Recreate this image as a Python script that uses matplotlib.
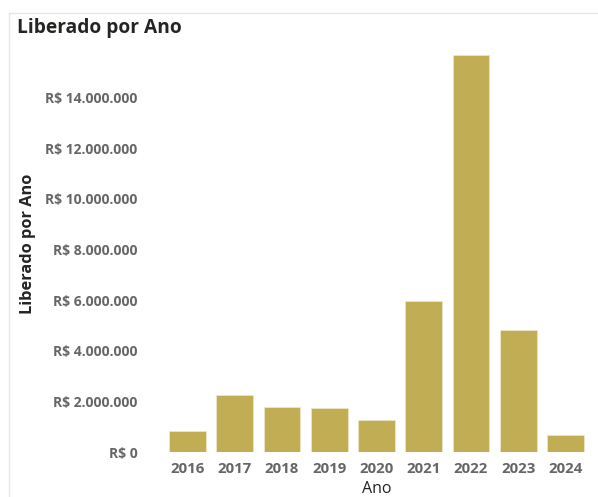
import matplotlib.pyplot as plt
from matplotlib.lines import Line2D
from matplotlib.ticker import FuncFormatter

anos = ["2016", "2017", "2018", "2019", "2020", "2021", "2022", "2023", "2024"]
liberado = [830000, 2250000, 1780000, 1740000, 1260000, 5970000, 15700000, 4820000, 670000]

plt.rcParams['font.family'] = ['Open Sans', 'DejaVu Sans']

fig = plt.figure(figsize=(5.98, 4.97), dpi=100)
ax = fig.add_axes([0.274, 0.0905, 0.711, 0.8149])

ax.bar(range(len(anos)), liberado, width=0.78, color="#C1AD53", edgecolor="#EEE6C4", linewidth=0.6)
ax.set_xlim(-0.5, len(anos) - 0.5)
ax.set_ylim(0, 16000000)
ax.set_yticks(range(0, 16000000, 2000000))
ax.yaxis.set_major_formatter(FuncFormatter(lambda v, p: "R$ " + f"{int(v):,}".replace(",", ".")))
ax.set_xticks(range(len(anos)))
ax.set_xticklabels(anos)

for s in ax.spines.values():
    s.set_visible(False)
ax.tick_params(length=0, colors="#666666", pad=7)
ax.tick_params(axis="x", labelsize=10.8)
ax.tick_params(axis="y", labelsize=10, pad=19)
for lbl in ax.get_xticklabels() + ax.get_yticklabels():
    lbl.set_fontweight("bold")

ax.set_xlabel("Ano", fontsize=11.5, color="#252423", labelpad=4)
fig.text(0.047, 0.51, "Liberado por Ano", rotation=90, fontsize=11.8, fontweight="bold",
         color="#252423", ha="center", va="center")
fig.text(0.028, 0.944, "Liberado por Ano", fontsize=13.8, fontweight="bold", color="#252423",
         ha="left", va="center")

fig.add_artist(Line2D([0.015, 0.015], [0.0, 0.974], transform=fig.transFigure, color="#E6E6E6", lw=1))
fig.add_artist(Line2D([0.015, 1.0], [0.974, 0.974], transform=fig.transFigure, color="#E6E6E6", lw=1))

fig.savefig("out.png", dpi=100)
